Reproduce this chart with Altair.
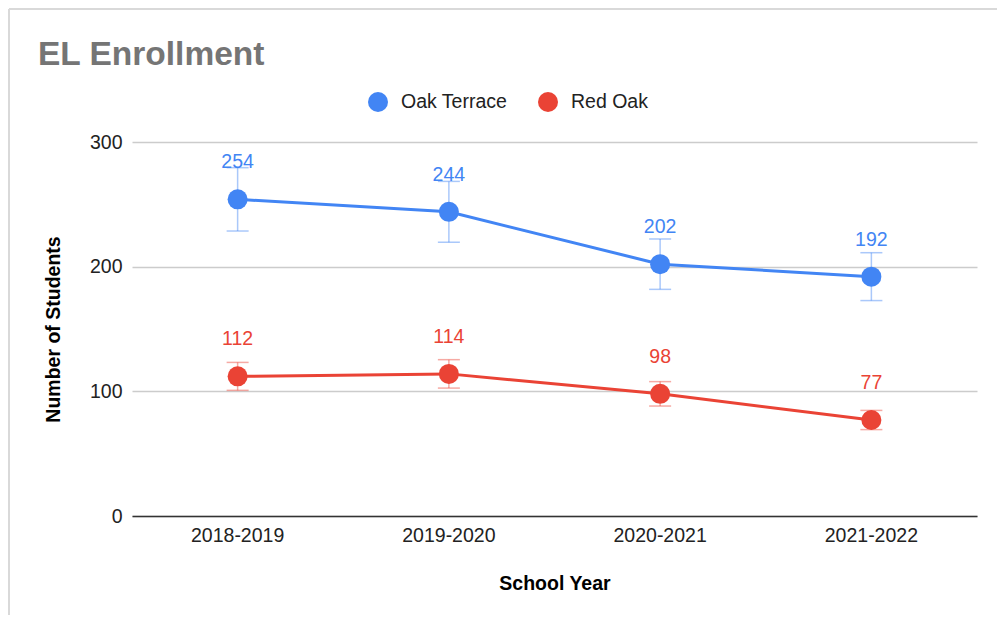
import altair as alt
import pandas as pd

years = ["2018-2019", "2019-2020", "2020-2021", "2021-2022"]
series_names = ["Oak Terrace", "Red Oak"]
oak_terrace = [254, 244, 202, 192]
red_oak = [112, 114, 98, 77]
oak_terrace_low = [228.6, 219.6, 181.8, 172.8]
oak_terrace_high = [279.4, 268.4, 222.2, 211.2]
red_oak_low = [100.8, 102.6, 88.2, 69.3]
red_oak_high = [123.2, 125.4, 107.8, 84.7]
colors = ["#4285F4", "#EA4335"]
chart_title = "EL Enrollment"

rows = []
for name, vals, lo, hi in [
    ("Oak Terrace", oak_terrace, oak_terrace_low, oak_terrace_high),
    ("Red Oak", red_oak, red_oak_low, red_oak_high),
]:
    for y, v, l, h in zip(years, vals, lo, hi):
        rows.append({"year": y, "series": name, "value": v, "low": l, "high": h})
df = pd.DataFrame(rows)

FONT = "Liberation Sans"

x_enc = alt.X(
    "year:N",
    sort=years,
    scale=alt.Scale(paddingInner=0, paddingOuter=0),
    axis=alt.Axis(
        title="School Year",
        labelAngle=0,
        labelFontSize=19.5,
        labelColor="#222222",
        labelPadding=10,
        ticks=False,
        grid=False,
        domainColor="#333333",
        domainWidth=1.5,
        titleFontSize=19.5,
        titleFontWeight="bold",
        titleColor="#000000",
        titlePadding=30,
        labelFont=FONT,
        titleFont=FONT,
    ),
)
y_scale = alt.Scale(domain=[0, 300])
legend = alt.Legend(
    title=None,
    orient="none",
    direction="horizontal",
    legendX=236,
    legendY=-50,
    symbolType="circle",
    symbolSize=400,
    symbolStrokeWidth=0,
    symbolOpacity=1,
    labelFontSize=19.5,
    labelFont=FONT,
    labelColor="#222222",
    labelOffset=13,
    columnPadding=30,
)
color_enc = alt.Color(
    "series:N",
    scale=alt.Scale(domain=series_names, range=colors),
    legend=legend,
)

base = alt.Chart(df)

err_rule = base.mark_rule(strokeWidth=1.5, opacity=0.45).encode(
    x=x_enc,
    y=alt.Y("low:Q", scale=y_scale),
    y2="high:Q",
    color=color_enc,
)
cap_lo = base.mark_tick(thickness=1.5, size=22, opacity=0.45, orient="horizontal").encode(
    x=x_enc, y=alt.Y("low:Q", scale=y_scale), color=color_enc
)
cap_hi = base.mark_tick(thickness=1.5, size=22, opacity=0.45, orient="horizontal").encode(
    x=x_enc, y=alt.Y("high:Q", scale=y_scale), color=color_enc
)

lines = base.mark_line(strokeWidth=3).encode(
    x=x_enc,
    y=alt.Y(
        "value:Q",
        scale=y_scale,
        axis=alt.Axis(
            title="Number of Students",
            values=[0, 100, 200, 300],
            labelFontSize=19.5,
            labelColor="#222222",
            labelPadding=10,
            ticks=False,
            domain=False,
            gridColor="#cccccc",
            gridWidth=1.5,
            titleFontSize=19.5,
            titleFontWeight="bold",
            titleColor="#000000",
            titlePadding=26,
            labelFont=FONT,
            titleFont=FONT,
        ),
    ),
    color=color_enc,
)

points = base.mark_point(filled=True, opacity=1, size=400, shape="circle").encode(
    x=x_enc,
    y=alt.Y("value:Q", scale=y_scale),
    color=color_enc,
)

labels = base.mark_text(dy=-37, fontSize=19.5, font=FONT, baseline="middle").encode(
    x=x_enc,
    y=alt.Y("value:Q", scale=y_scale),
    text="value:Q",
    color=color_enc,
)

title_mark = alt.Chart(pd.DataFrame({"t": [chart_title]})).mark_text(
    font=FONT, fontSize=33.5, fontWeight="bold", color="#757575",
    align="left", baseline="alphabetic",
).encode(x=alt.value(-94), y=alt.value(-77), text="t:N")

frame_top = alt.Chart(pd.DataFrame({"a": [0]})).mark_rule(color="#d9d9d9", strokeWidth=2).encode(
    x=alt.value(-123), x2=alt.value(870), y=alt.value(-133)
)
frame_left = alt.Chart(pd.DataFrame({"a": [0]})).mark_rule(color="#d9d9d9", strokeWidth=2).encode(
    x=alt.value(-123), y=alt.value(-133), y2=alt.value(480)
)

chart = (
    alt.layer(frame_top, frame_left, title_mark, err_rule, cap_lo, cap_hi, lines, points, labels)
    .properties(
        width=845,
        height=374,
        autosize=alt.AutoSizeParams(type="none"),
        padding={"left": 124, "top": 134, "right": 20, "bottom": 99},
    )
    .configure(background="#ffffff")
    .configure_view(stroke=None)
)

chart.save("out.html", embed_options={"renderer": "svg", "actions": False})
